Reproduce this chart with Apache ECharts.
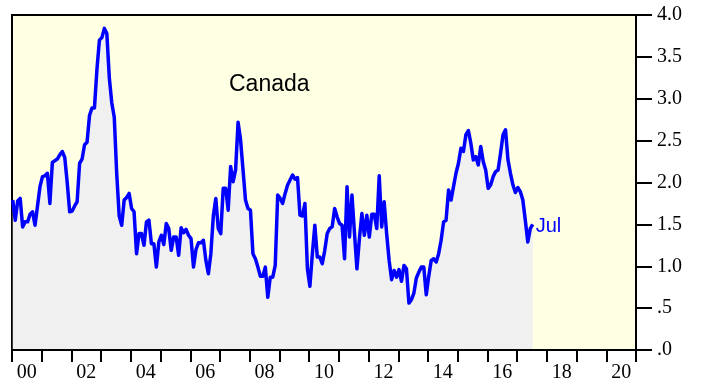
<!DOCTYPE html>
<html>
<head>
<meta charset="utf-8">
<script src="https://cdn.jsdelivr.net/npm/echarts@6/dist/echarts.min.js"></script>
<style>html,body{margin:0;padding:0;background:#fff}#c{width:701px;height:385px}</style>
</head>
<body>
<div id="c"></div>
<script>
// Monthly values, Jan 2000 .. Jul 2017
var y2000 = [1.79,1.55,1.78,1.81,1.47,1.53,1.53,1.62,1.65,1.49,1.72,1.95];
var y2001 = [2.07,2.08,2.11,1.75,2.24,2.26,2.28,2.33,2.37,2.30,2.00,1.65];
var y2002 = [1.66,1.72,1.77,2.23,2.28,2.45,2.48,2.80,2.89,2.89,3.35,3.70];
var y2003 = [3.73,3.84,3.78,3.25,2.95,2.78,2.10,1.60,1.49,1.79,1.82,1.87];
var y2004 = [1.69,1.65,1.15,1.39,1.39,1.25,1.53,1.55,1.27,1.27,0.99,1.29];
var y2005 = [1.37,1.26,1.51,1.45,1.19,1.35,1.35,1.13,1.46,1.40,1.44,1.37];
var y2006 = [1.33,0.99,1.20,1.28,1.28,1.31,1.07,0.91,1.15,1.60,1.81,1.45];
var y2007 = [1.39,1.93,1.93,1.67,2.19,2.01,2.15,2.72,2.51,2.15,1.79,1.69];
var y2008 = [1.67,1.15,1.09,0.99,0.88,0.88,0.99,0.63,0.87,0.87,1.01,1.85];
var y2009 = [1.81,1.75,1.87,1.97,2.03,2.09,2.04,2.06,1.61,1.60,1.75,0.97];
var y2010 = [0.76,1.15,1.49,1.11,1.11,1.03,1.19,1.39,1.45,1.47,1.69,1.59];
var y2011 = [1.51,1.49,1.09,1.95,1.35,1.85,1.40,0.97,1.33,1.63,1.37,1.61];
var y2012 = [1.35,1.62,1.62,1.45,2.08,1.47,1.77,1.39,1.07,0.84,0.95,0.87];
var y2013 = [0.96,0.82,1.01,0.97,0.56,0.60,0.68,0.86,0.93,0.99,0.99,0.66];
var y2014 = [0.88,1.07,1.09,1.05,1.15,1.31,1.53,1.55,1.91,1.79,1.95,2.11];
var y2015 = [2.23,2.41,2.37,2.57,2.62,2.47,2.27,2.31,2.21,2.43,2.25,2.15];
var y2016 = [1.93,1.97,2.07,2.13,2.15,2.35,2.57,2.63,2.27,2.11,1.97,1.88];
var y2017 = [1.94,1.89,1.79,1.55,1.29,1.45,1.50];

var yearLabels = ['00','01','02','03','04','05','06','07','08','09','10','11','12','13','14','15','16','17','18','19','20'];
var yTicks = ['.0','.5','1.0','1.5','2.0','2.5','3.0','3.5','4.0'];
var title = 'Canada';
var lastLabel = 'Jul';

var values = [].concat(y2000,y2001,y2002,y2003,y2004,y2005,y2006,y2007,y2008,y2009,
  y2010,y2011,y2012,y2013,y2014,y2015,y2016,y2017);
var seriesData = values.map(function(v,i){ return [i + 0.3, v]; });

var chart = echarts.init(document.getElementById('c'), null, {renderer:'canvas'});
chart.setOption({
  animation: false,
  backgroundColor: '#ffffff',
  grid: {left: 12, right: 65, top: 15, bottom: 35, show: true,
         backgroundColor: '#FFFFE4', borderColor: '#000', borderWidth: 2},
  xAxis: [
    {type: 'value', min: 0, max: 252, show: false,
     axisLine: {show: false, onZero: false}, axisTick: {show: false}, axisLabel: {show: false}, splitLine: {show: false}},
    {type: 'category', data: yearLabels, boundaryGap: true, position: 'bottom', z: 10,
     axisLine: {show: true, onZero: false, lineStyle: {color: '#000', width: 2}},
     axisTick: {show: true, interval: 0, length: 12, lineStyle: {color: '#000', width: 2}},
     axisLabel: {interval: 1, color: '#000', fontFamily: 'Liberation Serif', fontSize: 20, margin: 13},
     splitLine: {show: false}}
  ],
  yAxis: [
    {type: 'value', position: 'right', min: 0, max: 4, interval: 0.5, z: 10,
     axisLine: {show: true, onZero: false, lineStyle: {color: '#000', width: 2}},
     axisTick: {show: true, inside: false, length: 16, lineStyle: {color: '#000', width: 2}},
     axisLabel: {color: '#000', fontFamily: 'Liberation Serif', fontSize: 20, margin: 21,
       formatter: function(v){ return yTicks[Math.round(v*2)]; }},
     splitLine: {show: false}}
  ],
  graphic: [{type: 'text', left: 229, top: 73, z: 20,
    style: {text: title, fill: '#000', font: '23px "Liberation Sans"'}}],
  series: [{
    type: 'line', xAxisIndex: 0, yAxisIndex: 0, data: seriesData,
    showSymbol: false, symbol: 'none',
    lineStyle: {color: '#0000FF', width: 3.5, join: 'round'},
    areaStyle: {color: '#F0F0F0', opacity: 1},
    endLabel: {show: true, formatter: lastLabel, color: '#0000FF',
      fontFamily: 'Liberation Sans', fontSize: 20, distance: 3, offset: [0, 2]}
  }]
});
</script>
</body>
</html>
